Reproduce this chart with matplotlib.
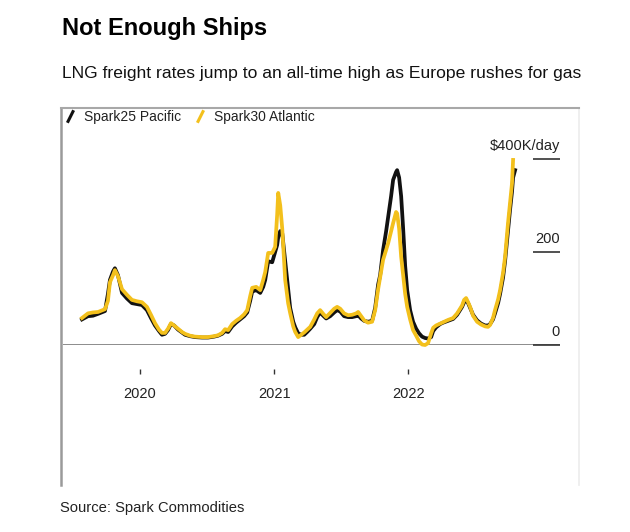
import numpy as np
import pandas as pd
import matplotlib
matplotlib.use("Agg")
import matplotlib.pyplot as plt
import matplotlib.transforms as mtransforms
from matplotlib.lines import Line2D

plt.rcParams['font.family'] = ['Liberation Sans', 'DejaVu Sans']

# ---- data (decimal years, $K/day) ----
dates_dec = [2019.567, 2019.612, 2019.649, 2019.687, 2019.739, 2019.761, 2019.776, 2019.799, 2019.813, 2019.836,
             2019.866, 2019.903, 2019.940, 2019.978, 2020.015, 2020.052, 2020.082, 2020.112, 2020.142, 2020.164,
             2020.187, 2020.209, 2020.231, 2020.254, 2020.284, 2020.313, 2020.336, 2020.373, 2020.410, 2020.463,
             2020.507, 2020.552, 2020.582, 2020.612, 2020.634, 2020.657, 2020.687, 2020.716, 2020.746, 2020.776,
             2020.799, 2020.821, 2020.836, 2020.866, 2020.896, 2020.918, 2020.933, 2020.955, 2020.985, 2021.007,
             2021.022, 2021.030, 2021.045, 2021.060, 2021.082, 2021.104, 2021.119, 2021.142, 2021.157, 2021.179,
             2021.201, 2021.224, 2021.246, 2021.269, 2021.299, 2021.321, 2021.343, 2021.366, 2021.388, 2021.418,
             2021.448, 2021.470, 2021.493, 2021.522, 2021.552, 2021.582, 2021.612, 2021.627, 2021.649, 2021.672,
             2021.701, 2021.731, 2021.754, 2021.776, 2021.791, 2021.813, 2021.836, 2021.851, 2021.873, 2021.888,
             2021.910, 2021.918, 2021.933, 2021.948, 2021.963, 2021.978, 2021.993, 2022.015, 2022.037, 2022.060,
             2022.082, 2022.104, 2022.127, 2022.149, 2022.172, 2022.187, 2022.209, 2022.239, 2022.261, 2022.299,
             2022.336, 2022.366, 2022.388, 2022.403, 2022.418, 2022.433, 2022.448, 2022.463, 2022.485, 2022.515,
             2022.545, 2022.575, 2022.597, 2022.612, 2022.634, 2022.649, 2022.672, 2022.687, 2022.709, 2022.724,
             2022.746, 2022.761, 2022.776, 2022.784, 2022.799]

atlantic = [58, 68, 70, 71, 77, 95, 135, 150, 161, 148,
            120, 108, 97, 94, 92, 82, 65, 47, 33, 26,
            26, 35, 47, 42, 35, 28, 24, 20, 18, 17,
            17, 19, 21, 26, 34, 32, 45, 52, 58, 66,
            75, 105, 123, 125, 118, 140, 157, 198, 198, 211,
            280, 327, 300, 250, 140, 90, 69, 40, 28, 17,
            22, 27, 33, 39, 55, 68, 75, 67, 60, 69,
            78, 82, 78, 68, 64, 65, 68, 71, 62, 53,
            48, 50, 75, 120, 146, 183, 205, 219, 245, 262,
            286, 283, 250, 190, 150, 110, 82, 55, 32, 20,
            8, 1, 0, 4, 25, 37, 42, 46, 49, 54,
            58, 68, 78, 85, 97, 101, 92, 82, 63, 50,
            44, 40, 39, 43, 58, 75, 98, 118, 155, 189,
            262, 305, 348, 398, np.nan]

pacific = [55, 62, 63, 67, 73, 110, 140, 158, 165, 150,
           112, 100, 90, 88, 86, 75, 58, 42, 30, 22,
           24, 32, 45, 42, 33, 27, 22, 19, 17, 16,
           16, 18, 20, 24, 30, 28, 40, 48, 55, 62,
           70, 95, 115, 118, 112, 125, 140, 180, 178, 200,
           215, 232, 245, 240, 180, 120, 80, 50, 38, 25,
           22, 22, 28, 35, 45, 60, 70, 63, 57, 62,
           70, 75, 72, 62, 60, 60, 62, 64, 57, 52,
           50, 52, 80, 130, 150, 204, 245, 275, 320, 355,
           372, 376, 360, 320, 250, 170, 118, 75, 50, 35,
           25, 18, 15, 14, 17, 30, 38, 45, 48, 52,
           56, 65, 75, 82, 92, 96, 90, 80, 65, 53,
           46, 42, 42, 45, 55, 68, 90, 110, 145, 180,
           245, 290, 330, 360, 376]

series_names = ["Spark25 Pacific", "Spark30 Atlantic"]
ytick_vals = [0, 200, 400]
ytick_labels = ["0", "200", "$400K/day"]
xtick_dates = ["2020-01-01", "2021-01-01", "2022-01-01"]
xtick_labels = ["2020", "2021", "2022"]


def dec_to_ts(y):
    yr = int(np.floor(y))
    s = pd.Timestamp(yr, 1, 1)
    e = pd.Timestamp(yr + 1, 1, 1)
    return s + (e - s) * (y - yr)


dates = [dec_to_ts(d) for d in dates_dec]

BLACK = "#111111"
YELLOW = "#F3C01C"

W, H = 630, 532
fig = plt.figure(figsize=(W / 100, H / 100), dpi=100)


def px(x0, y0, x1, y1):
    return [x0 / W, 1 - y1 / H, (x1 - x0) / W, (y1 - y0) / H]


# frame box
axf = fig.add_axes(px(61, 108, 579, 485))
axf.set_xticks([]); axf.set_yticks([])
axf.patch.set_alpha(0)
axf.spines['bottom'].set_visible(False)
axf.spines['left'].set_color('#9a9a9a'); axf.spines['left'].set_linewidth(1.8)
axf.spines['top'].set_color('#a8a8a8'); axf.spines['top'].set_linewidth(1.5)
axf.spines['right'].set_color('#ececec'); axf.spines['right'].set_linewidth(1.2)

# data axes
ax = fig.add_axes(px(63, 110, 560, 345))
ax.patch.set_alpha(0)
ax.set_ylim(0, 235 * 200 / 93)
ax.set_xlim(dec_to_ts(2020 + (63 - 140) / 134), dec_to_ts(2020 + (560 - 140) / 134))

ax.axhline(0, color='#6e6e6e', lw=1.1, zorder=1)
ax.plot(dates, pacific, color=BLACK, lw=2.7, solid_joinstyle='round', clip_on=False, zorder=3)
ax.plot(dates, atlantic, color=YELLOW, lw=2.7, solid_joinstyle='round', clip_on=False, zorder=4)

for s in ['top', 'left', 'right']:
    ax.spines[s].set_visible(False)
ax.spines['bottom'].set_position(('outward', 24 * 0.72))
ax.spines['bottom'].set_visible(False)

ax.set_xticks([pd.Timestamp(d) for d in xtick_dates])
ax.set_xticklabels(xtick_labels, fontsize=10.5, color='#222222')
ax.tick_params(axis='x', direction='out', length=3.6, width=1.0, color='#333333', pad=9)

ax.yaxis.tick_right()
ax.set_yticks(ytick_vals)
ax.tick_params(axis='y', direction='in', length=19.4, width=1.2, color='#333333', labelright=False, labelleft=False)
trans = mtransforms.blended_transform_factory(ax.transAxes, ax.transData)
for v, lab in zip(ytick_vals, ytick_labels):
    ax.annotate(lab, xy=(1.0, v), xycoords=trans, xytext=(0, 6.5), textcoords='offset points',
                ha='right', va='baseline', fontsize=10.5, color='#222222')

# legend
handles = [
    Line2D([], [], color=BLACK, marker=[(-0.5, -1), (0.5, 1)], linestyle='none',
           markersize=9, markeredgewidth=2.2, markeredgecolor=BLACK),
    Line2D([], [], color=YELLOW, marker=[(-0.5, -1), (0.5, 1)], linestyle='none',
           markersize=9, markeredgewidth=2.2, markeredgecolor=YELLOW),
]
leg = fig.legend(handles, series_names, loc='upper left', bbox_to_anchor=(62 / W, 1 - 108 / H),
                 ncol=2, frameon=False, fontsize=10, handlelength=0.8, handletextpad=0.6,
                 columnspacing=1.0, borderaxespad=0, borderpad=0.15)
for t in leg.get_texts():
    t.set_color('#222222')

# titles
fig.text(62 / W, 1 - 29 / H, "Not Enough Ships", fontsize=17, fontweight='bold', va='center', ha='left', color='#000000')
fig.text(62 / W, 1 - 73 / H, "LNG freight rates jump to an all-time high as Europe rushes for gas",
         fontsize=12.6, va='center', ha='left', color='#111111')
fig.text(60 / W, 1 - 508 / H, "Source: Spark Commodities", fontsize=10.6, va='center', ha='left', color='#222222')

fig.savefig("out.png", dpi=100)
